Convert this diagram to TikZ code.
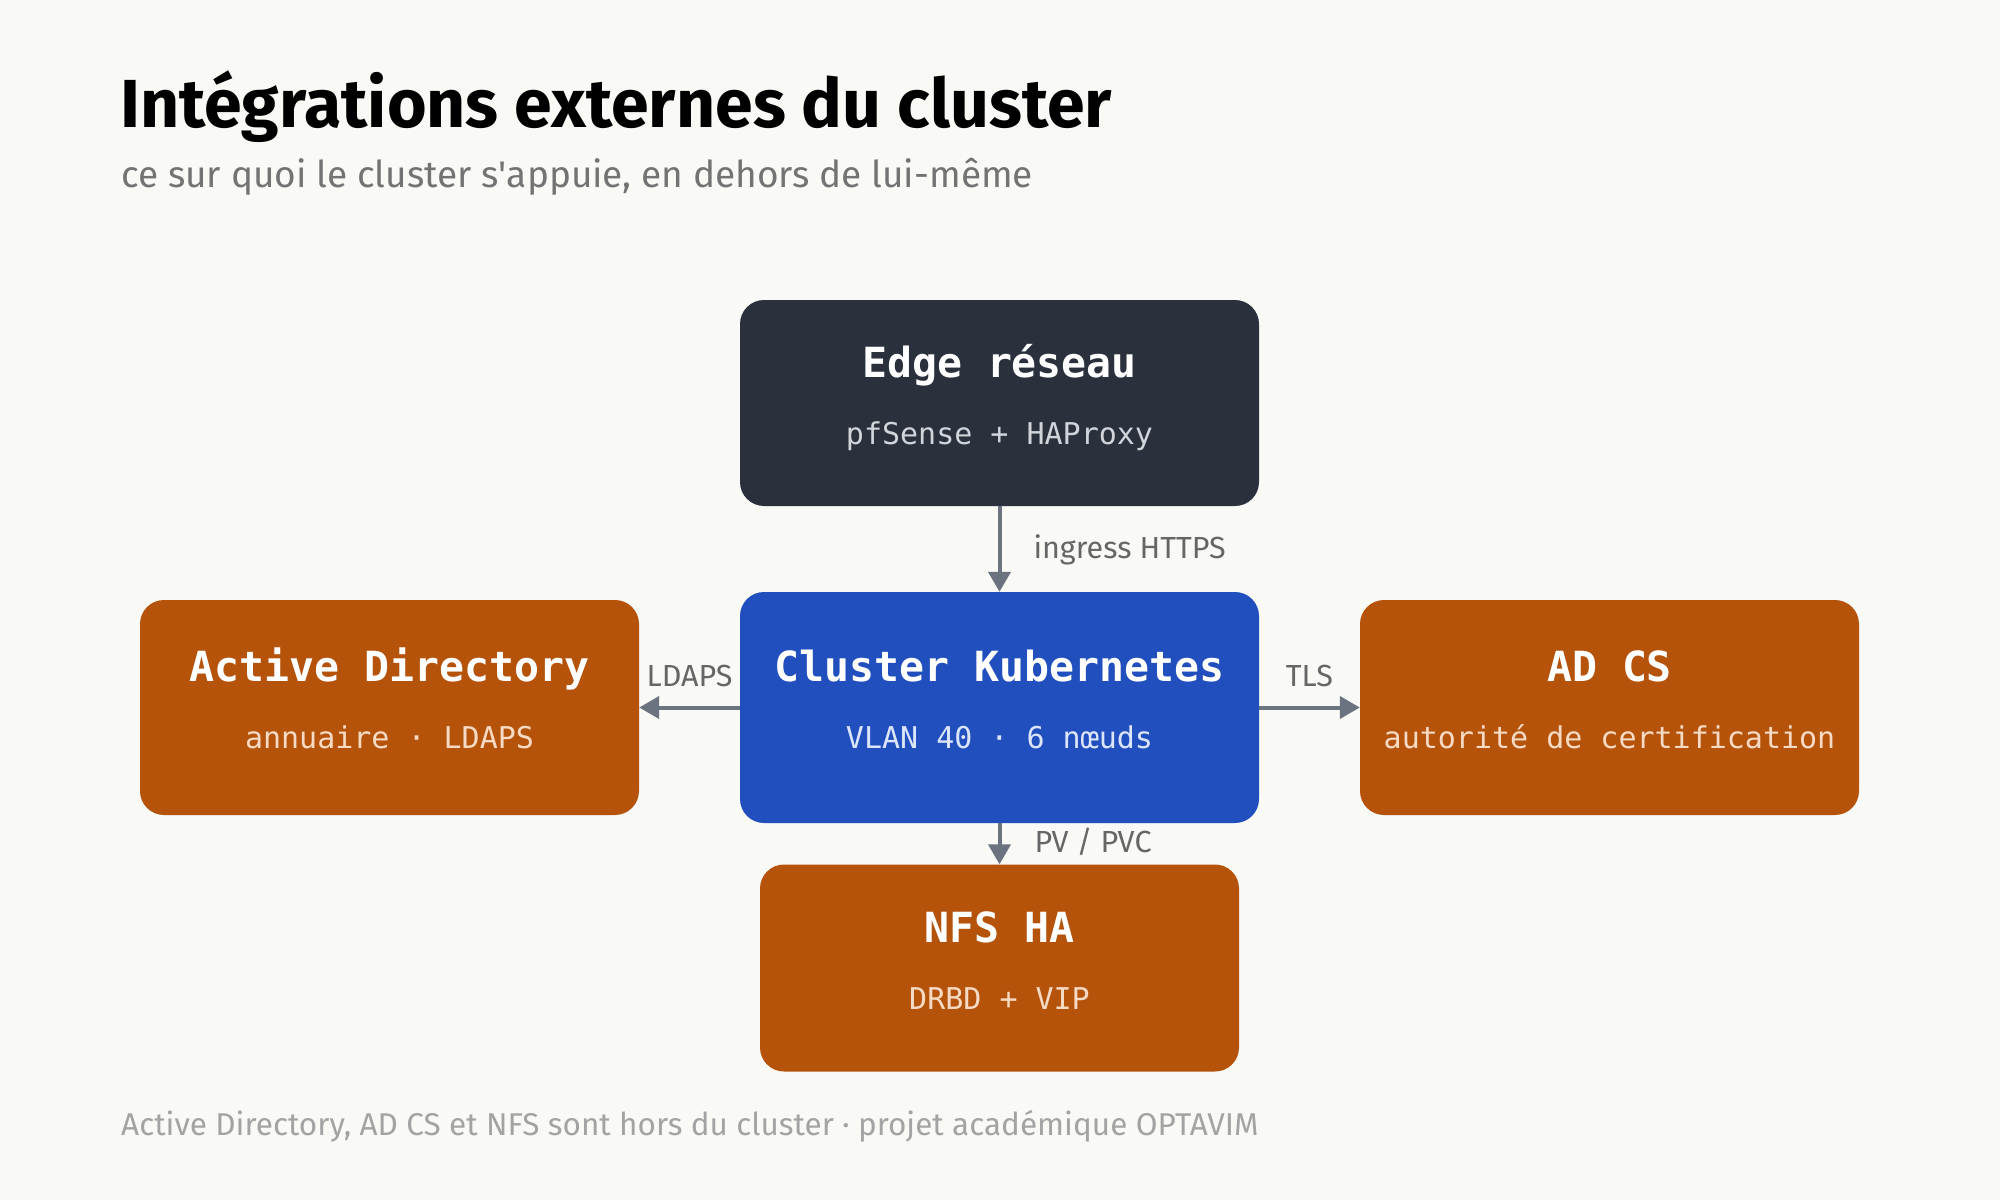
\documentclass[tikz,border=0pt]{standalone}
\usepackage{fontspec}
\setmainfont{Fira Sans}
\newfontfamily\plexmono{DejaVu Sans Mono}
\usetikzlibrary{arrows.meta, positioning}
\definecolor{pagebg}{HTML}{F9F9F6}
\definecolor{edgedark}{HTML}{2A303C}
\definecolor{kubeblue}{HTML}{2150BE}
\definecolor{extorange}{HTML}{B5530B}
\definecolor{arrowgray}{HTML}{6B7280}
\definecolor{labelgray}{HTML}{666666}
\definecolor{subgray}{HTML}{737373}
\definecolor{footgray}{HTML}{A3A3A3}
\definecolor{onedge}{HTML}{D1D5DB}
\definecolor{onblue}{HTML}{DCE5FA}
\definecolor{onorange}{HTML}{F6DAC4}

\begin{document}
\begin{tikzpicture}[x=1pt, y=-1pt,
    box/.style={fill=#1, rounded corners=24pt, inner sep=0pt},
    ttl/.style={text=white, anchor=base, font=\plexmono\bfseries\fontsize{41.5}{49}\selectfont},
    sub/.style={text=#1, anchor=base, font=\plexmono\fontsize{30}{35}\selectfont},
    link/.style={arrowgray, line width=4pt, -{Triangle[length=20pt, width=22pt]}},
    lbl/.style={text=labelgray, inner sep=0pt, font=\fontsize{30.5}{34}\selectfont},
]
    \path[fill=pagebg] (0,0) rectangle (2000,1200);

    % heading
    \node[anchor=base west, inner sep=0pt, font=\bfseries\fontsize{68}{76}\selectfont] (title)
        at (120,127) {Intégrations externes du cluster};
    \node[anchor=base west, inner sep=0pt, text=subgray, font=\fontsize{37}{42}\selectfont] (subtitle)
        at (121,187) {ce sur quoi le cluster s\textquotesingle appuie, en dehors de lui-même};

    % boxes
    \node[box=edgedark, minimum width=519pt, minimum height=206pt] (edge) at (999.5,403) {};
    \node[ttl] (edge-t) at ([yshift=26pt]edge.center) {Edge réseau};
    \node[sub=onedge] (edge-s) at ([yshift=-41pt]edge.center) {pfSense + HAProxy};

    \node[box=kubeblue, minimum width=519pt, minimum height=231pt] (cluster) at (999.5,707.5) {};
    \node[ttl] (cluster-t) at ([yshift=26pt]cluster.center) {Cluster Kubernetes};
    \node[sub=onblue] (cluster-s) at ([yshift=-41pt]cluster.center) {VLAN 40 · 6 nœuds};

    \node[box=extorange, minimum width=499pt, minimum height=215pt] (ad) at (389.5,707.5) {};
    \node[ttl] (ad-t) at ([yshift=26pt]ad.center) {Active Directory};
    \node[sub=onorange] (ad-s) at ([yshift=-41pt]ad.center) {annuaire · LDAPS};

    \node[box=extorange, minimum width=499pt, minimum height=215pt] (adcs) at (1609.5,707.5) {};
    \node[ttl] (adcs-t) at ([yshift=26pt]adcs.center) {AD CS};
    \node[sub=onorange] (adcs-s) at ([yshift=-41pt]adcs.center) {autorité de certification};

    \node[box=extorange, minimum width=479pt, minimum height=207pt] (nfs) at (999.5,968) {};
    \node[ttl] (nfs-t) at ([yshift=26pt]nfs.center) {NFS HA};
    \node[sub=onorange] (nfs-s) at ([yshift=-41pt]nfs.center) {DRBD + VIP};

    % links
    \draw[link] (edge) -- node[lbl, anchor=base west, xshift=32pt, yshift=-9pt] {ingress HTTPS} (cluster);
    \draw[link] (cluster) -- node[lbl, anchor=base, yshift=21pt] {LDAPS} (ad);
    \draw[link] (cluster) -- node[lbl, anchor=base, yshift=21pt] {TLS} (adcs);
    \draw[link] (cluster) -- node[lbl, anchor=base west, xshift=33pt, yshift=-9pt] {PV / PVC} (nfs);

    % footer
    \node[anchor=base west, inner sep=0pt, text=footgray, font=\fontsize{31.5}{36}\selectfont] (footer)
        at (121,1135) {Active Directory, AD CS et NFS sont hors du cluster · projet académique OPTAVIM};
\end{tikzpicture}
\end{document}
